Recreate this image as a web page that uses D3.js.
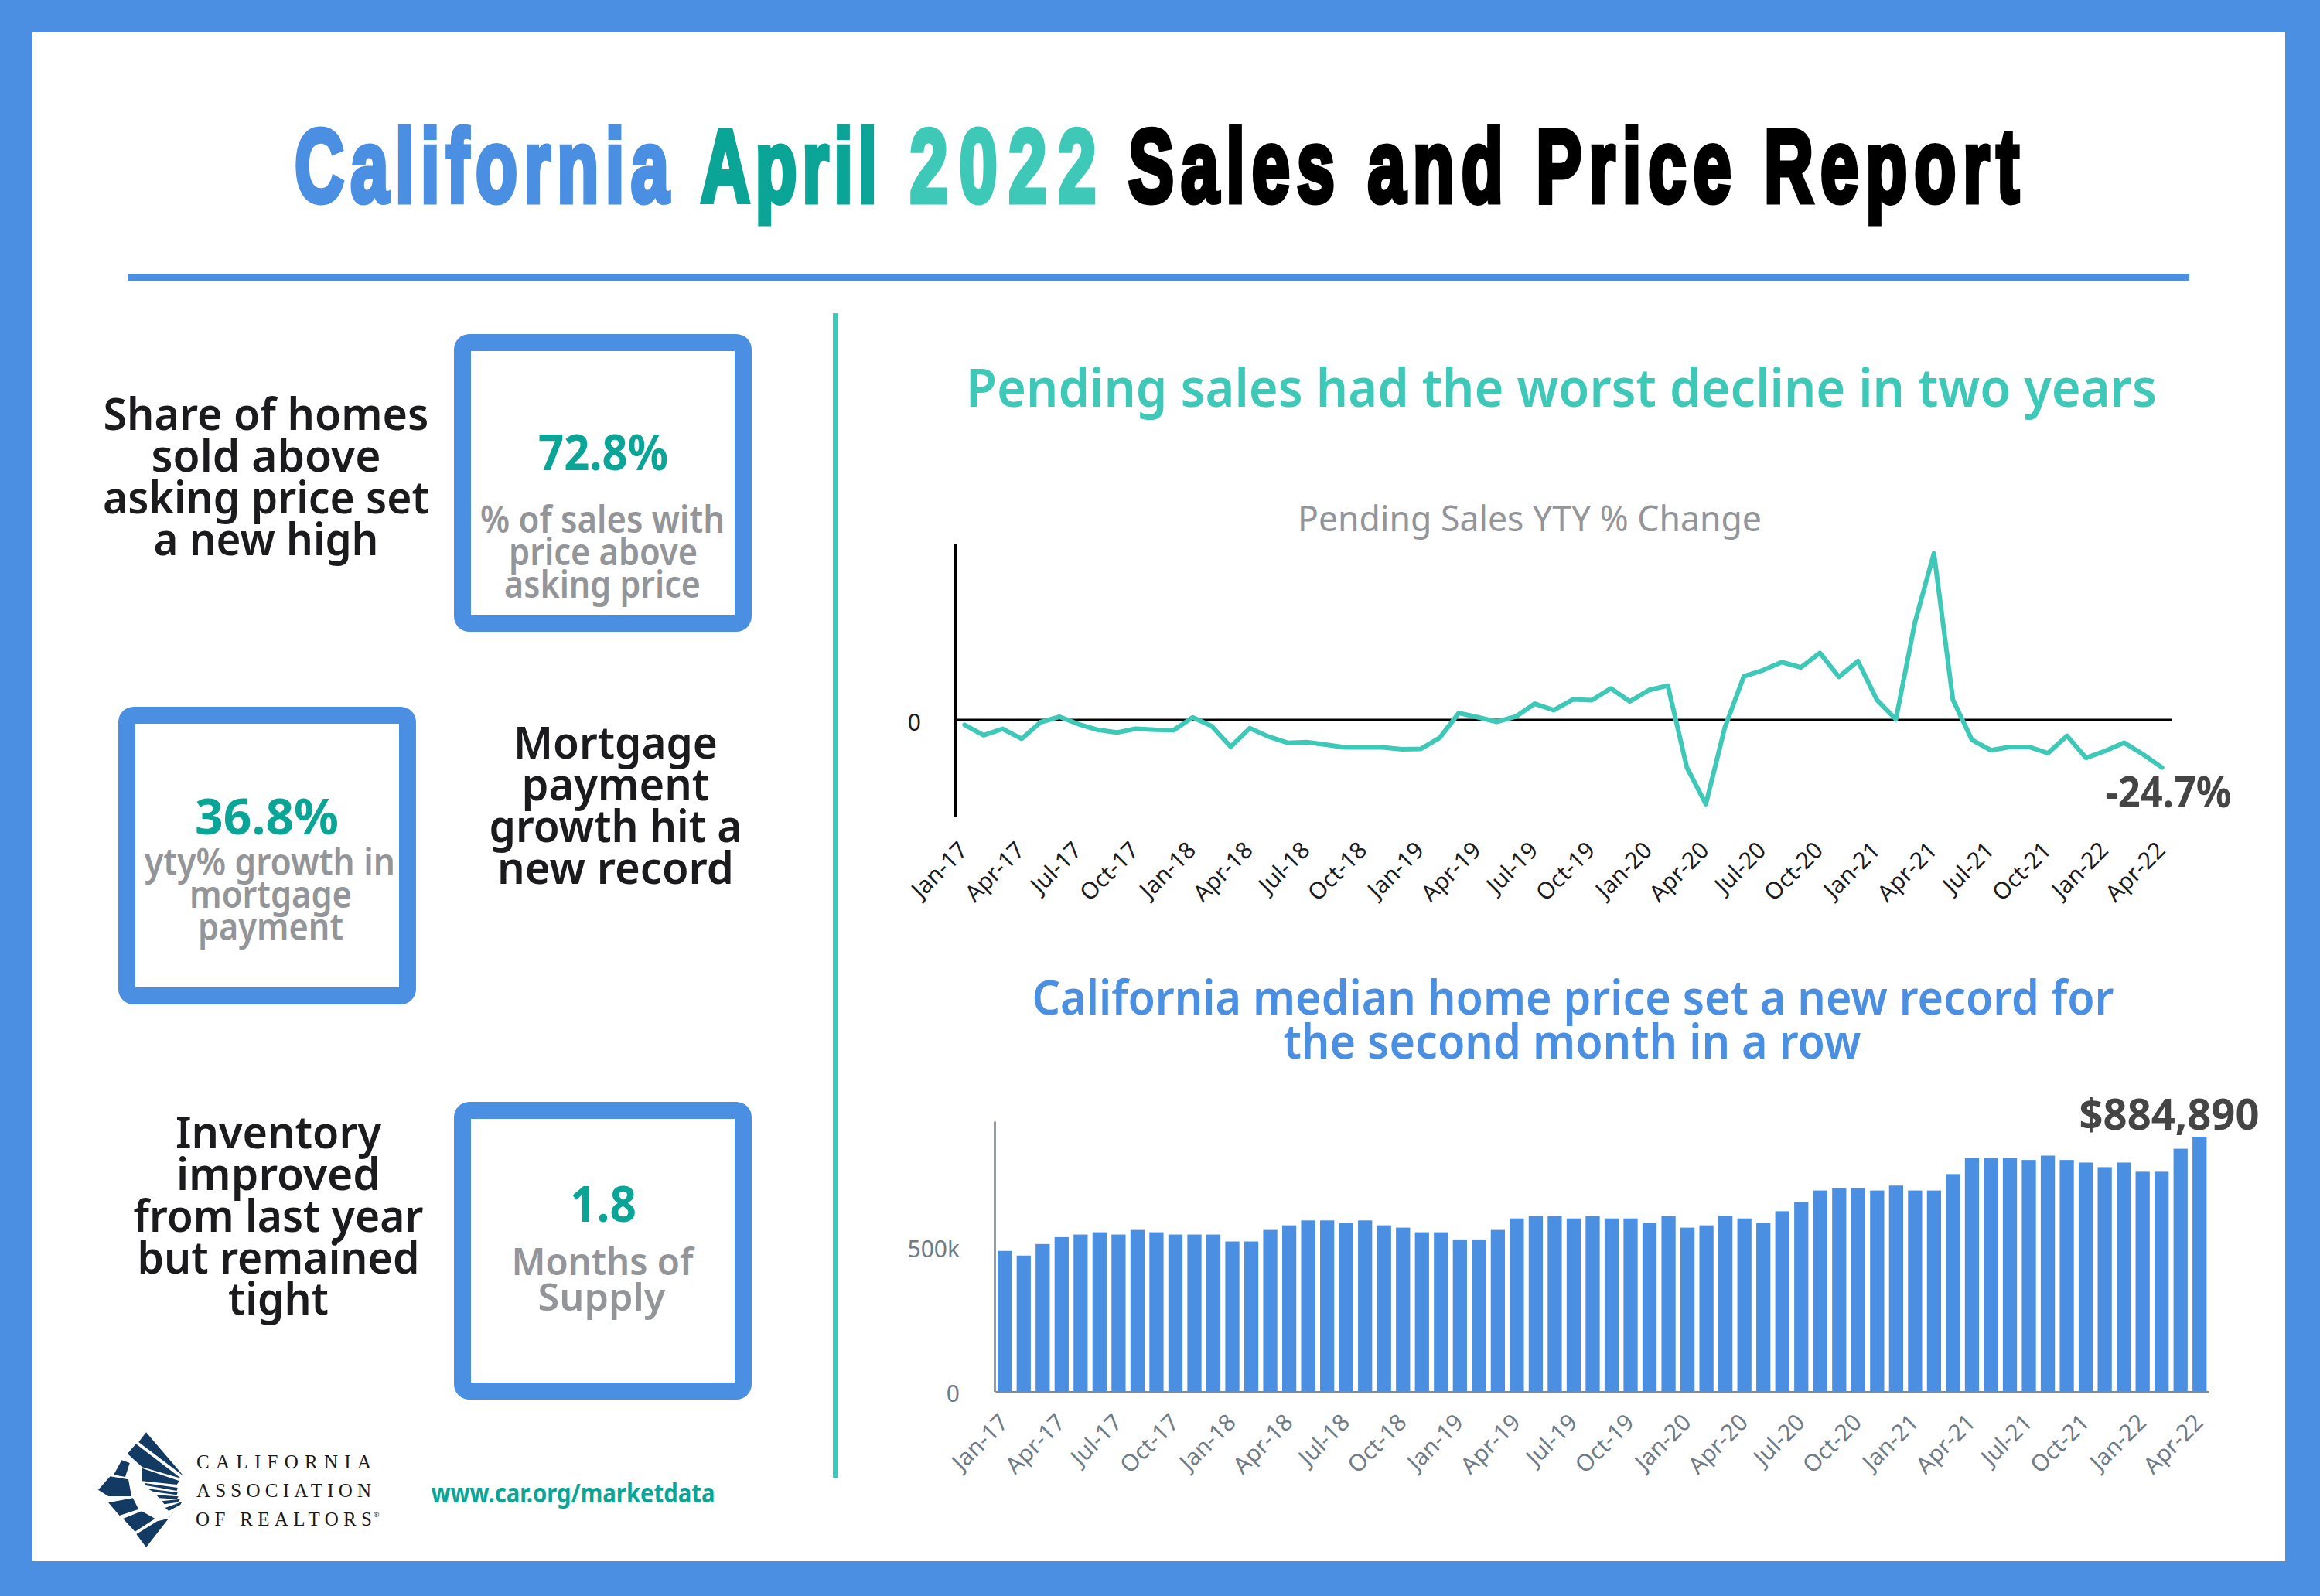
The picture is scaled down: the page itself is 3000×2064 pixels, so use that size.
<!DOCTYPE html>
<html lang="en">
<head>
    <meta charset="UTF-8">
    <title>California April 2022 Sales and Price Report</title>
    <script src="https://d3js.org/d3.v7.min.js"></script>
    <style>
        body { margin: 0; background: #fff; }
        svg { display: block; }
        text { font-family: "Noto Sans", sans-serif; }
    </style>
</head>
<body>
    <div id="chart"></div>

    <script>
        // Months shown on both charts, Jan-17 to Apr-22
        const monthNames = ["Jan", "Feb", "Mar", "Apr", "May", "Jun", "Jul", "Aug", "Sep", "Oct", "Nov", "Dec"];
        const years = ["17", "18", "19", "20", "21", "22"];
        const months = years.flatMap(y => monthNames.map(m => `${m}-${y}`)).slice(0, 64);
        const tickMonths = months.filter((m, i) => i % 3 === 0);

        // Pending sales, YTY % change
        const pendingChange = [
            -2.7, -8.1, -4.8, -9.9, -1.4, 1.4, -2.4, -5.3, -6.7, -4.8, -5.3, -5.5,
            1.1, -3.4, -14, -4.5, -8.8, -12, -11.6, -12.9, -14.3, -14.3, -14.3, -15.3,
            -15.1, -9.4, 3.3, 1.2, -1.2, 1.5, 8.1, 4.8, 10.3, 9.9, 16, 9.3,
            15.1, 17.4, -24.6, -43.5, -4.1, 22.2, 25.3, 29.5, 26.8, 34.2, 21.9, 30,
            10.1, 0.1, 49.9, 85.4, 10.1, -10.5, -15.8, -14.1, -14.1, -17.3, -8.4, -19.7,
            -16.2, -11.9, -17.9, -24.7
        ];

        // Median home price, $ thousands
        const medianPrice = [
            488, 472, 512, 536, 545, 553, 545, 561, 553, 545, 545, 545,
            521, 521, 561, 577, 594, 594, 585, 594, 577, 569, 553, 553,
            528, 528, 561, 601, 609, 609, 601, 609, 601, 601, 585, 609,
            569, 577, 610, 601, 585, 626, 658, 698, 706, 706, 698, 715,
            698, 698, 755, 811, 811, 811, 804, 819, 804, 795, 779, 795,
            763, 763, 843, 884.89
        ];

        const colors = { blue: "#4a8fe2", teal: "#3ec8b8", deep: "#0aa596", gray: "#939598", ink: "#1b1b1d", dark: "#454545", axis: "#6f7b85" };

        const svg = d3.select("#chart").append("svg")
            .attr("width", 3000)
            .attr("height", 2064);

        // Frame, header rule and centre divider
        svg.append("rect").attr("width", 3000).attr("height", 2064).attr("fill", colors.blue);
        svg.append("rect").attr("x", 42).attr("y", 42).attr("width", 2913).attr("height", 1977).attr("fill", "#fff");
        svg.append("rect").attr("x", 165).attr("y", 354).attr("width", 2666).attr("height", 9).attr("fill", colors.blue);
        svg.append("rect").attr("x", 1077).attr("y", 405).attr("width", 6).attr("height", 1506).attr("fill", colors.teal);

        // Draws one fitted line of text: [string, centre x, baseline, width]
        function addLines(rows, size, weight, fill, family, adjust) {
            svg.append("g").selectAll("text")
                .data(rows)
                .enter()
                .append("text")
                .attr("x", d => d[1])
                .attr("y", d => d[2])
                .attr("text-anchor", "middle")
                .attr("textLength", d => d[3])
                .attr("lengthAdjust", adjust || "spacingAndGlyphs")
                .attr("font-size", size)
                .attr("font-weight", weight)
                .attr("fill", fill)
                .style("font-family", family || null)
                .text(d => d[0]);
        }

        // Title, narrowed glyphs with wide tracking
        const titleSquash = 0.66;
        const titleParts = [
            ["California", 623, 261, 484, colors.blue],
            ["April", 1020, 261, 228, colors.deep],
            ["2022", 1297, 261, 241, colors.teal],
            ["Sales and Price Report", 2035, 261, 1152, "#000"]
        ];
        titleParts.forEach(p => {
            svg.append("text")
                .attr("transform", `translate(${p[1]},${p[2]}) scale(${titleSquash},1)`)
                .attr("text-anchor", "middle")
                .attr("textLength", p[3] / titleSquash)
                .attr("lengthAdjust", "spacing")
                .attr("font-size", 134)
                .attr("font-weight", 700)
                .attr("fill", p[4])
                .attr("stroke", p[4])
                .attr("stroke-width", 7)
                .style("font-family", "'Liberation Sans Narrow', 'Liberation Sans'")
                .text(p[0]);
        });

        // Stat boxes
        [[587, 432], [153, 914], [587, 1425]].forEach(b => {
            svg.append("rect").attr("x", b[0]).attr("y", b[1]).attr("width", 385).attr("height", 385).attr("rx", 20).attr("fill", colors.blue);
            svg.append("rect").attr("x", b[0] + 22).attr("y", b[1] + 22).attr("width", 341).attr("height", 341).attr("fill", "#fff");
        });

        addLines([
            ["Share of homes", 344, 556, 421], ["sold above", 344, 610, 297],
            ["asking price set", 344, 664, 422], ["a new high", 344, 718, 291],
            ["Mortgage", 796, 981, 264], ["payment", 796, 1035, 243],
            ["growth hit a", 796, 1089, 327], ["new record", 796, 1143, 306],
            ["Inventory", 360, 1485, 266], ["improved", 360, 1539, 264],
            ["from last year", 360, 1593, 375], ["but remained", 360, 1647, 365], ["tight", 360, 1700, 130]
        ], 58, 650, colors.ink);

        addLines([
            ["72.8%", 780, 608, 168], ["36.8%", 345, 1079, 186], ["1.8", 780, 1580, 86]
        ], 64, 700, colors.deep);

        addLines([
            ["% of sales with", 779, 689, 316], ["price above", 780, 731, 244], ["asking price", 779, 773, 254],
            ["yty% growth in", 349, 1132, 324], ["mortgage", 350, 1174, 210], ["payment", 350, 1216, 188],
            ["Months of", 779, 1649, 235], ["Supply", 778, 1695, 165]
        ], 48, 600, colors.gray);

        // Chart headings
        addLines([["Pending sales had the worst decline in two years", 2019, 526, 1540]], 68, 600, colors.teal);
        addLines([
            ["California median home price set a new record for", 2034, 1312, 1399],
            ["the second month in a row", 2033, 1369, 747]
        ], 62, 600, colors.blue);
        addLines([["Pending Sales YTY % Change", 1978, 687, 600]], 46, 400, colors.gray);

        // Line chart: pending sales
        const lineX = d3.scalePoint().domain(months).range([1235, 2808]).padding(0.5);
        const lineY = d3.scaleLinear().domain([-50, 90.6]).range([1056.3, 702.5]);

        const lineYAxis = svg.append("g")
            .attr("transform", "translate(1235,0)")
            .call(d3.axisLeft(lineY).tickValues([0]).tickSize(0).tickPadding(44));
        lineYAxis.select(".domain").attr("stroke", "#000").attr("stroke-width", 3);
        lineYAxis.selectAll("text").attr("font-size", 30).attr("dy", "0.48em").attr("fill", colors.ink);

        const zeroAxis = svg.append("g")
            .attr("transform", `translate(0,${lineY(0)})`)
            .call(d3.axisBottom(lineX).tickValues([]).tickSize(0));
        zeroAxis.select(".domain").attr("stroke", "#000").attr("stroke-width", 3);

        const lineLabels = svg.append("g")
            .attr("transform", "translate(-2,1094)")
            .call(d3.axisBottom(lineX).tickValues(tickMonths).tickSize(0).tickPadding(0));
        lineLabels.select(".domain").remove();
        lineLabels.selectAll("text")
            .attr("transform", "rotate(-45)")
            .attr("dy", "0.35em")
            .attr("font-size", 30)
            .attr("fill", colors.ink)
            .style("text-anchor", "end");

        svg.append("path")
            .datum(pendingChange)
            .attr("fill", "none")
            .attr("stroke", colors.teal)
            .attr("stroke-width", 6)
            .attr("stroke-linejoin", "round")
            .attr("stroke-linecap", "round")
            .attr("d", d3.line().x((d, i) => lineX(months[i])).y(d => lineY(d)));

        addLines([["-24.7%", 2804, 1044, 163]], 56, 700, colors.dark);

        // Bar chart: median price
        const barX = d3.scaleBand().domain(months).range([1287, 2856.5]).paddingInner(0.255).paddingOuter(0.127);
        const barY = d3.scaleLinear().domain([0, 884.89]).range([1799.5, 1470]);

        svg.selectAll(".bar")
            .data(medianPrice)
            .enter()
            .append("rect")
            .attr("class", "bar")
            .attr("x", (d, i) => barX(months[i]))
            .attr("y", d => barY(d))
            .attr("width", barX.bandwidth())
            .attr("height", d => barY(0) - barY(d))
            .attr("fill", colors.blue);

        const barYAxis = svg.append("g")
            .attr("transform", "translate(1286,0)")
            .call(d3.axisLeft(barY.copy().domain([0, 938.6]).range([1799.5, 1450])).tickValues([0, 500]).tickSize(0).tickPadding(45).tickFormat(d => d ? d + "k" : "0"));
        barYAxis.select(".domain").attr("stroke", colors.axis).attr("stroke-width", 2.5);
        barYAxis.selectAll("text").attr("font-size", 30).attr("dy", "0.42em").attr("fill", colors.axis);

        const barXAxis = svg.append("g")
            .attr("transform", "translate(0,1800)")
            .call(d3.axisBottom(barX).tickValues(tickMonths).tickSize(0).tickPadding(0));
        barXAxis.select(".domain").attr("stroke", "#83888d").attr("stroke-width", 3);
        barXAxis.selectAll("text")
            .attr("transform", "translate(-1,34) rotate(-45)")
            .attr("y", 0)
            .attr("dy", "0.35em")
            .attr("font-size", 30)
            .attr("fill", colors.axis)
            .style("text-anchor", "end");

        addLines([["$884,890", 2805, 1461, 233]], 56, 700, colors.dark);

        // Footer
        addLines([["www.car.org/marketdata", 741, 1943, 367]], 34, 700, colors.deep);
        addLines([
            ["CALIFORNIA", 367, 1899, 226], ["ASSOCIATION", 367, 1936, 226], ["OF REALTORS", 367, 1973, 228]
        ], 25, 400, "#1a1a1a", "'Liberation Serif'", "spacing");
        svg.append("text").attr("x", 483).attr("y", 1962).attr("font-size", 9).attr("fill", "#1a1a1a").text("®");

        // Logo, traced in zoom space then mapped to the page
        const logoShapes = [
            [[155, 97], [240, 268], [138, 135]],
            [[132, 142], [234, 276], [146, 232], [113, 180]],
            [[146, 236], [230, 286], [224, 300], [146, 286]],
            [[152, 294], [226, 312], [224, 324], [152, 302]],
            [[158, 316], [226, 330], [224, 340], [172, 328]],
            [[178, 340], [228, 346], [224, 356], [184, 352]],
            [[190, 364], [232, 356], [226, 368], [196, 376]],
            [[198, 390], [236, 366], [232, 378], [206, 402]],
            [[47, 320], [74, 268], [115, 280], [122, 345], [70, 345]],
            [[82, 262], [100, 205], [118, 216], [108, 270]],
            [[70, 370], [125, 352], [138, 395], [95, 420]],
            [[103, 432], [145, 403], [175, 432], [130, 482]],
            [[133, 492], [180, 442], [205, 432], [238, 360], [155, 543]]
        ];
        svg.append("g").selectAll("polygon")
            .data(logoShapes)
            .enter()
            .append("polygon")
            .attr("fill", "#123a63")
            .attr("points", d => d.map(p => `${100 + p[0] / 1.742},${1820 + p[1] / 3}`).join(" "));
    </script>
</body>
</html>
